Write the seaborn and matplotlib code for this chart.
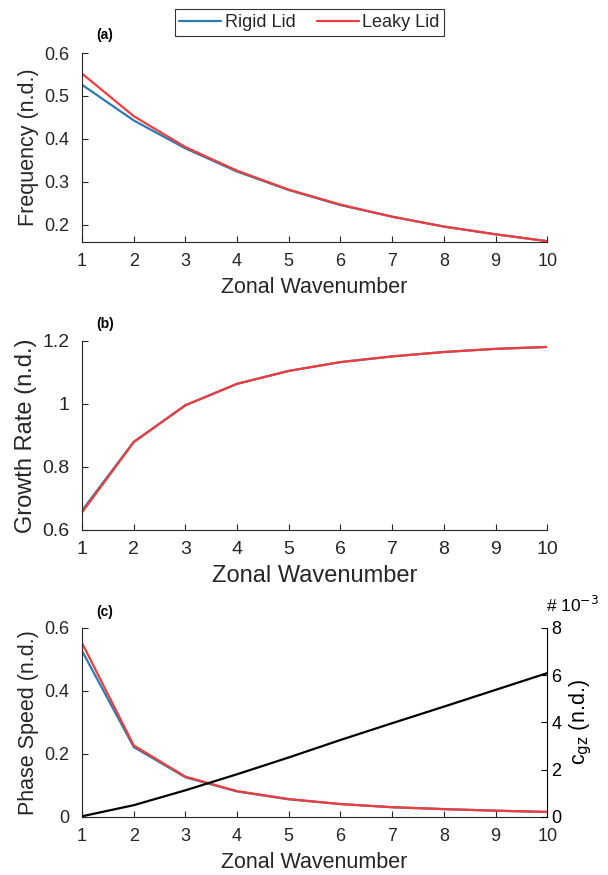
import matplotlib
matplotlib.use('Agg')
import matplotlib.pyplot as plt
from matplotlib.lines import Line2D
import seaborn as sns
import pandas as pd
import numpy as np

# values
wavenumber = [1, 2, 3, 4, 5, 6, 7, 8, 9, 10]
freq_rigid = [0.526, 0.443, 0.378, 0.324, 0.281, 0.246, 0.219, 0.196, 0.178, 0.162]
freq_leaky = [0.552, 0.453, 0.381, 0.326, 0.282, 0.247, 0.219, 0.196, 0.178, 0.162]
growth_rigid = [0.662, 0.880, 0.996, 1.064, 1.105, 1.133, 1.151, 1.165, 1.175, 1.181]
growth_leaky = [0.656, 0.879, 0.996, 1.064, 1.105, 1.133, 1.151, 1.165, 1.175, 1.181]
phase_rigid = [0.527, 0.222, 0.126, 0.081, 0.056, 0.041, 0.031, 0.025, 0.020, 0.016]
phase_leaky = [0.552, 0.227, 0.128, 0.082, 0.057, 0.041, 0.031, 0.025, 0.020, 0.016]
cgz = [0.03, 0.50, 1.13, 1.81, 2.52, 3.26, 3.97, 4.67, 5.38, 6.09]  # x 1e-3

lid_names = ['Rigid Lid', 'Leaky Lid']
colors = {'Rigid Lid': '#2b7bb3', 'Leaky Lid': '#f23c3c'}

sns.set_style('ticks')
plt.rcParams['font.family'] = ['Liberation Sans', 'DejaVu Sans']
axcol = '#262626'


def long_df(rigid, leaky):
    return pd.DataFrame({
        'k': wavenumber * 2,
        'val': rigid + leaky,
        'lid': [lid_names[0]] * len(rigid) + [lid_names[1]] * len(leaky),
    })


def style_axis(ax, ylabel, yticks, ylim, fs_lab, fs_tick):
    ax.set_xlim(1, 10)
    ax.set_ylim(*ylim)
    ax.set_xticks(wavenumber)
    ax.set_yticks(yticks)
    ax.set_xlabel('Zonal Wavenumber', fontsize=fs_lab, color=axcol, labelpad=5)
    ax.set_ylabel(ylabel, fontsize=fs_lab, color=axcol, labelpad=4)
    ax.tick_params(direction='in', length=4, width=0.8, labelsize=fs_tick,
                   colors=axcol)
    ax.tick_params(axis='x', pad=8)
    ax.tick_params(axis='y', pad=9)
    ax.yaxis.set_major_formatter(matplotlib.ticker.FormatStrFormatter('%g'))
    for s in ['top', 'right']:
        ax.spines[s].set_visible(False)
    for s in ['left', 'bottom']:
        ax.spines[s].set_color(axcol)
        ax.spines[s].set_linewidth(0.8)
    if ax.get_legend() is not None:
        ax.get_legend().remove()


fig = plt.figure(figsize=(6.08, 8.75), dpi=100)
left, width, height = 0.135, 0.765, 0.216

# (a) frequency
ax1 = fig.add_axes([left, 0.7234, width, height])
sns.lineplot(data=long_df(freq_rigid, freq_leaky), x='k', y='val', hue='lid',
             palette=colors, linewidth=1.6, ax=ax1)
style_axis(ax1, 'Frequency (n.d.)', [0.2, 0.3, 0.4, 0.5, 0.6], (0.16, 0.6), 15.5, 13)
ax1.text(0.03, 1.095, '(a)', transform=ax1.transAxes, fontsize=10, fontweight='bold',
         ha='left', va='center', color='black')

# (b) growth rate
ax2 = fig.add_axes([left, 0.3943, width, height])
sns.lineplot(data=long_df(growth_rigid, growth_leaky), x='k', y='val', hue='lid',
             palette=colors, linewidth=1.6, ax=ax2)
style_axis(ax2, 'Growth Rate (n.d.)', [0.6, 0.8, 1.0, 1.2], (0.6, 1.2), 17, 14)
ax2.text(0.03, 1.09, '(b)', transform=ax2.transAxes, fontsize=10, fontweight='bold',
         ha='left', va='center', color='black')

# (c) phase speed + vertical group velocity
ax3 = fig.add_axes([left, 0.0663, width, height])
sns.lineplot(data=long_df(phase_rigid, phase_leaky), x='k', y='val', hue='lid',
             palette=colors, linewidth=1.6, ax=ax3)
style_axis(ax3, 'Phase Speed (n.d.)', [0, 0.2, 0.4, 0.6], (0, 0.6), 15.5, 13)
ax3.text(0.03, 1.085, '(c)', transform=ax3.transAxes, fontsize=10, fontweight='bold',
         ha='left', va='center', color='black')

ax4 = ax3.twinx()
sns.lineplot(x=wavenumber, y=cgz, color='black', linewidth=1.6, ax=ax4)
ax4.set_ylim(0, 8)
ax4.set_yticks([0, 2, 4, 6, 8])
ax4.set_ylabel(r'c$_{\mathrm{gz}}$ (n.d.)', fontsize=15.5, color='black', labelpad=4)
ax4.tick_params(axis='y', direction='in', length=4, width=0.8, labelsize=13,
                colors='black', pad=3)
for s in ['top', 'left', 'bottom']:
    ax4.spines[s].set_visible(False)
ax4.spines['right'].set_color('black')
ax4.spines['right'].set_linewidth(0.8)
ax4.text(0.998, 1.12, '# 10$^{-3}$', transform=ax4.transAxes, fontsize=12.5,
         ha='left', va='center', color='black')

# shared legend on top
handles = [Line2D([0], [0], color=colors[n], lw=1.6) for n in lid_names]
leg = fig.legend(handles, lid_names, loc='center', bbox_to_anchor=(0.509, 0.9743),
                 ncol=2, fontsize=13, frameon=True, fancybox=False,
                 handlelength=2.3, handletextpad=0.2, columnspacing=1.2,
                 borderpad=0.25, borderaxespad=0)
leg.get_frame().set_edgecolor('black')
leg.get_frame().set_linewidth(0.8)

fig.savefig('out.png', dpi=100)
